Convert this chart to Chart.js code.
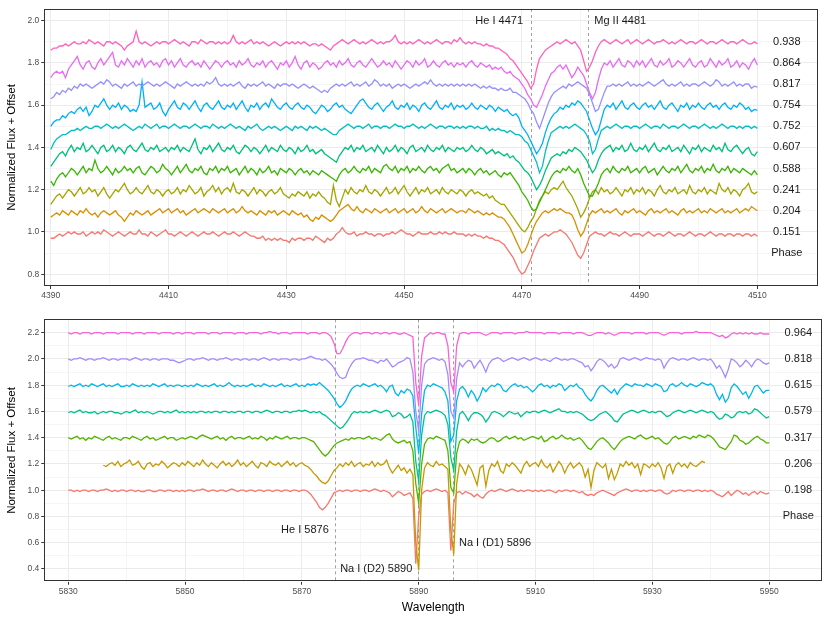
<!DOCTYPE html>
<html>
<head>
<meta charset="utf-8">
<title>Spectra by phase</title>
<script src="https://cdn.jsdelivr.net/npm/chart.js@4.4.1/dist/chart.umd.min.js"></script>
<style>
  body { margin: 0; background: #fff; }
  canvas { position: absolute; left: 0; }
  #top { top: 0; }
  #bottom { top: 311px; }
</style>
</head>
<body>
<canvas id="top" width="830" height="311"></canvas>
<canvas id="bottom" width="830" height="312"></canvas>
<script>
const FONT = '"Liberation Sans", Arial, Helvetica, sans-serif';

// ---- top panel: He I 4471 / Mg II 4481, normalized flux sampled every 0.5 A from 4390 to 4510
const topPhases = ['0.151', '0.204', '0.241', '0.588', '0.607', '0.752', '0.754', '0.817', '0.864', '0.938'];
const topOffsets = [0, 0.1, 0.2, 0.3, 0.4, 0.5, 0.6, 0.7, 0.8, 0.9];
const topColors = ['#F8766D', '#D89000', '#A3A500', '#39B600', '#00BF7D', '#00BFC4', '#00B0F6', '#9590FF', '#E76BF3', '#FF62BC'];
const topXTicks = [4390, 4400, 4410, 4420, 4430, 4440, 4450, 4460, 4470, 4480, 4490, 4500, 4510];
const topYTicks = [0.8, 0.9, 1.0, 1.1, 1.2, 1.3, 1.4, 1.5, 1.6, 1.7, 1.8, 1.9, 2.0];

const t151 = [
  0.97, 0.97, 0.98, 0.99, 0.98, 0.99, 1.00, 0.99, 1.00, 0.99, 0.99, 1.00, 0.98, 0.99, 1.00, 0.99, 1.00, 0.99, 1.01, 1.00,
  0.99, 0.98, 0.99, 1.00, 0.99, 0.98, 0.99, 1.00, 0.99, 0.99, 1.01, 0.99, 0.99, 0.98, 1.00, 0.99, 0.98, 0.99, 1.00, 1.01,
  0.99, 0.99, 0.98, 0.99, 1.00, 0.99, 0.98, 0.99, 1.00, 0.99, 0.98, 0.99, 1.00, 0.99, 0.99, 1.00, 0.99, 0.98, 0.99, 1.00,
  0.99, 0.99, 1.00, 0.99, 0.98, 0.99, 1.00, 0.99, 0.98, 0.98, 0.97, 0.97, 0.98, 0.96, 0.97, 0.96, 0.97, 0.96, 0.97, 0.96,
  0.96, 0.95, 0.97, 0.96, 0.97, 0.97, 0.96, 0.97, 0.97, 0.96, 0.98, 0.97, 0.96, 0.95, 0.97, 0.96, 0.97, 0.99, 1.00, 1.02,
  1.00, 0.99, 0.99, 1.00, 0.98, 0.99, 0.99, 1.00, 0.99, 0.99, 0.98, 0.99, 0.99, 0.98, 0.99, 0.99, 1.00, 0.99, 1.00, 1.01,
  1.00, 0.99, 0.99, 0.98, 0.99, 1.00, 0.99, 0.99, 0.99, 1.00, 0.99, 0.99, 1.00, 0.99, 1.00, 0.99, 0.99, 1.00, 0.99, 0.99,
  0.99, 0.98, 0.99, 0.98, 0.99, 0.98, 0.98, 0.97, 0.98, 0.97, 0.97, 0.96, 0.96, 0.95, 0.94, 0.92, 0.90, 0.88, 0.85, 0.82,
  0.80, 0.81, 0.84, 0.87, 0.91, 0.94, 0.97, 0.98, 0.99, 0.98, 0.99, 1.00, 1.00, 1.01, 1.00, 0.99, 0.97, 0.95, 0.92, 0.89,
  0.875, 0.90, 0.94, 0.98, 0.99, 1.00, 0.99, 0.99, 0.98, 0.99, 1.00, 0.99, 0.99, 0.98, 0.99, 1.00, 0.99, 0.98, 0.99, 0.99,
  0.99, 0.98, 0.99, 1.00, 0.99, 0.98, 0.99, 0.99, 0.98, 0.99, 1.00, 0.99, 0.98, 0.99, 0.99, 0.98, 0.99, 1.00, 0.99, 0.98,
  0.99, 0.99, 0.98, 0.99, 1.00, 0.99, 0.98, 0.99, 0.99, 0.98, 0.99, 0.99, 0.98, 0.99, 0.99, 0.98, 0.99, 0.99, 0.98, 0.99,
  0.98
];
const t204 = [
  0.97, 0.98, 0.99, 0.98, 1.00, 0.99, 0.98, 1.00, 0.99, 0.98, 1.00, 0.99, 1.01, 0.99, 0.98, 0.99, 0.97, 0.99, 1.00, 0.99,
  0.98, 0.99, 1.00, 0.98, 0.97, 0.95, 0.97, 0.99, 0.98, 1.00, 0.99, 0.98, 0.99, 1.00, 0.98, 0.99, 1.00, 1.01, 0.99, 1.00,
  1.01, 0.99, 1.00, 1.01, 0.99, 1.00, 0.98, 0.99, 1.00, 1.01, 0.99, 1.00, 1.01, 1.00, 0.99, 1.01, 1.00, 0.99, 1.00, 1.01,
  0.99, 1.00, 1.01, 0.99, 1.00, 1.02, 1.00, 0.99, 1.00, 0.99, 0.98, 1.00, 0.99, 0.98, 1.00, 0.99, 1.00, 0.98, 0.99, 1.00,
  0.99, 0.98, 1.00, 0.99, 0.98, 0.99, 0.97, 0.98, 0.96, 0.95, 0.97, 0.96, 0.98, 0.97, 0.96, 0.95, 0.96, 0.98, 1.00, 1.01,
  1.02, 1.03, 1.01, 1.00, 1.02, 1.00, 0.99, 1.01, 1.00, 0.99, 1.01, 1.00, 0.99, 1.00, 1.01, 0.99, 1.00, 1.01, 0.99, 1.00,
  1.01, 0.99, 1.00, 1.01, 0.99, 1.00, 1.02, 1.00, 0.99, 1.01, 1.00, 0.99, 1.00, 1.01, 0.99, 1.00, 1.01, 1.00, 0.99, 1.00,
  1.00, 0.99, 1.01, 1.00, 0.99, 1.00, 0.99, 0.98, 0.99, 0.98, 0.99, 0.98, 0.97, 0.97, 0.96, 0.94, 0.92, 0.89, 0.86, 0.83,
  0.80, 0.81, 0.84, 0.88, 0.92, 0.95, 0.97, 0.99, 1.00, 0.99, 1.00, 1.01, 1.00, 1.01, 1.00, 0.99, 0.99, 0.98, 0.95, 0.91,
  0.88, 0.90, 0.94, 0.98, 1.00, 0.99, 1.00, 1.01, 0.99, 1.00, 0.99, 1.00, 1.01, 0.99, 0.98, 1.00, 0.99, 1.00, 1.01, 0.99,
  1.00, 0.99, 0.98, 1.00, 1.01, 0.99, 1.00, 0.99, 1.00, 1.01, 0.99, 1.00, 0.99, 0.98, 1.00, 1.01, 0.99, 1.00, 0.99, 1.00,
  1.01, 0.99, 1.00, 0.99, 1.01, 1.00, 0.99, 1.00, 1.01, 0.99, 1.00, 0.99, 1.00, 1.01, 0.99, 1.00, 1.01, 1.00, 1.02, 1.01,
  1.00
];
const t241 = [
  0.93, 0.95, 0.97, 0.98, 0.96, 0.98, 1.00, 0.99, 0.97, 0.99, 1.01, 0.98, 0.99, 1.01, 0.99, 1.00, 0.97, 0.99, 1.01, 0.98,
  0.96, 0.98, 1.00, 0.99, 1.01, 1.03, 1.00, 0.98, 0.99, 1.01, 0.99, 0.98, 1.00, 1.02, 0.99, 0.98, 1.00, 0.99, 0.97, 0.99,
  1.00, 0.98, 0.99, 1.01, 0.98, 1.00, 0.99, 1.02, 1.00, 0.98, 0.99, 1.01, 0.97, 0.99, 1.00, 1.02, 0.99, 1.01, 0.98, 1.00,
  1.01, 0.99, 1.03, 0.99, 0.98, 1.00, 0.99, 0.97, 0.99, 1.01, 0.98, 1.00, 0.99, 0.97, 0.99, 1.00, 0.98, 0.99, 1.01, 0.98,
  0.97, 0.96, 0.98, 0.97, 0.99, 0.98, 0.97, 0.99, 0.96, 0.98, 0.97, 0.99, 0.97, 0.96, 0.94, 0.93, 1.02, 0.95, 0.92, 0.96,
  1.00, 0.98, 1.01, 0.99, 0.98, 1.00, 0.99, 1.02, 0.99, 0.98, 1.00, 0.99, 0.97, 0.99, 1.01, 0.98, 0.99, 1.01, 0.98, 1.00,
  1.02, 0.99, 0.97, 0.99, 1.01, 0.98, 1.00, 0.99, 1.01, 0.98, 0.99, 1.00, 0.98, 1.01, 0.99, 0.98, 1.00, 0.99, 0.98, 1.00,
  0.99, 0.97, 0.99, 1.00, 0.98, 0.99, 0.98, 0.97, 0.98, 0.96, 0.97, 0.95, 0.94, 0.93, 0.93, 0.91, 0.89, 0.87, 0.85, 0.83,
  0.81, 0.80, 0.82, 0.85, 0.87, 0.91, 0.95, 0.97, 0.99, 0.98, 1.00, 1.01, 1.00, 1.02, 1.04, 1.01, 0.99, 0.97, 0.94, 0.91,
  0.87, 0.89, 0.92, 0.96, 0.99, 1.00, 0.98, 1.01, 0.99, 1.00, 0.98, 0.99, 1.01, 0.99, 0.97, 1.00, 0.99, 1.01, 0.98, 1.00,
  0.99, 1.01, 0.98, 1.00, 0.99, 0.97, 1.00, 1.02, 0.99, 0.98, 1.00, 0.99, 1.01, 0.98, 0.99, 1.00, 0.98, 1.02, 0.99, 0.98,
  1.00, 0.99, 1.01, 0.98, 1.00, 0.99, 0.98, 1.03, 1.00, 0.99, 1.01, 0.98, 1.00, 0.99, 0.97, 1.00, 1.01, 1.03, 0.99, 0.98,
  0.99
];
const t588 = [
  0.94, 0.92, 0.95, 0.97, 0.98, 0.96, 0.98, 1.00, 0.99, 0.97, 0.99, 1.01, 0.98, 1.00, 0.99, 1.04, 1.00, 0.98, 0.99, 1.01,
  0.99, 0.97, 1.00, 0.98, 0.99, 1.01, 0.99, 1.00, 0.98, 1.00, 1.01, 0.98, 0.97, 0.99, 1.01, 1.00, 0.98, 0.99, 1.02, 1.00,
  0.99, 0.97, 0.99, 1.01, 0.98, 1.00, 1.02, 0.99, 0.98, 1.00, 0.99, 1.01, 0.98, 0.97, 1.00, 0.99, 1.01, 0.98, 1.00, 0.99,
  1.01, 0.98, 0.99, 1.00, 0.97, 0.99, 1.01, 0.98, 1.00, 0.99, 0.97, 1.00, 0.98, 0.99, 1.01, 0.98, 0.99, 0.97, 1.00, 0.99,
  0.98, 1.00, 0.99, 0.97, 0.99, 1.00, 0.98, 0.99, 0.97, 0.99, 0.98, 0.97, 0.99, 0.98, 0.97, 0.96, 0.95, 0.94, 0.97, 0.99,
  1.00, 0.98, 0.99, 1.01, 0.99, 0.98, 1.00, 0.99, 1.01, 0.98, 1.00, 0.99, 0.98, 1.01, 1.02, 1.00, 0.99, 1.01, 0.98, 1.00,
  0.99, 1.01, 0.98, 1.00, 0.99, 1.01, 0.99, 0.98, 1.00, 1.01, 0.99, 1.00, 0.98, 1.00, 1.01, 1.02, 0.99, 1.00, 0.98, 0.99,
  1.00, 0.98, 1.00, 0.99, 0.97, 0.99, 1.00, 0.98, 0.99, 0.97, 0.98, 0.99, 0.97, 0.96, 0.98, 0.97, 0.98, 0.96, 0.94, 0.92,
  0.89, 0.87, 0.85, 0.82, 0.80, 0.81, 0.84, 0.87, 0.90, 0.93, 0.96, 0.98, 0.99, 0.98, 1.00, 0.99, 1.01, 0.99, 0.98, 1.00,
  0.97, 0.93, 0.90, 0.87, 0.87, 0.90, 0.93, 0.97, 0.99, 1.00, 0.98, 1.01, 0.99, 0.98, 1.00, 0.99, 1.01, 0.98, 0.99, 1.00,
  0.98, 1.00, 1.01, 0.98, 0.99, 1.00, 0.97, 0.99, 1.01, 0.99, 0.98, 1.00, 0.99, 1.01, 0.98, 1.00, 1.02, 0.99, 0.98, 1.00,
  0.99, 1.01, 0.98, 1.00, 0.99, 1.02, 0.99, 0.98, 1.00, 0.99, 1.01, 0.98, 1.00, 0.99, 0.98, 1.00, 0.99, 0.98, 0.97, 0.99,
  0.97
];
const t607 = [
  0.91, 0.93, 0.95, 0.97, 0.98, 0.96, 0.99, 1.01, 0.98, 1.00, 0.99, 1.02, 0.98, 0.99, 1.01, 0.99, 0.97, 1.00, 1.01, 0.98,
  0.99, 1.01, 0.98, 1.00, 0.99, 0.97, 1.00, 1.01, 0.99, 0.98, 1.00, 1.02, 0.99, 0.98, 1.00, 0.99, 1.01, 0.98, 0.99, 1.00,
  0.98, 1.00, 0.99, 1.01, 0.98, 1.00, 0.99, 0.98, 1.01, 1.04, 0.99, 0.97, 1.00, 0.99, 1.01, 0.98, 1.00, 1.02, 0.99, 0.98,
  1.00, 0.99, 1.01, 0.98, 0.97, 0.99, 1.01, 1.00, 0.98, 1.00, 0.99, 0.97, 0.99, 1.01, 0.98, 1.00, 0.99, 0.98, 1.01, 0.99,
  0.98, 1.00, 0.99, 0.97, 1.00, 0.98, 0.99, 1.01, 0.98, 0.99, 0.97, 0.98, 0.99, 0.97, 0.96, 0.95, 0.94, 0.93, 0.96, 0.98,
  1.00, 0.99, 1.01, 0.98, 1.00, 0.99, 1.01, 0.98, 0.99, 1.00, 0.98, 1.01, 0.99, 0.97, 1.00, 0.98, 0.99, 1.01, 0.98, 1.00,
  0.99, 0.97, 1.00, 1.01, 0.98, 0.99, 1.00, 0.98, 1.01, 0.99, 0.98, 1.00, 0.99, 1.01, 0.98, 1.00, 0.99, 0.98, 1.00, 0.99,
  1.00, 0.98, 0.99, 1.01, 0.99, 0.98, 1.00, 0.99, 0.97, 0.98, 0.99, 0.97, 0.98, 0.97, 0.96, 0.97, 0.95, 0.96, 0.94, 0.93,
  0.91, 0.89, 0.88, 0.86, 0.83, 0.80, 0.82, 0.85, 0.89, 0.92, 0.95, 0.96, 0.97, 0.96, 0.98, 0.97, 0.99, 0.98, 1.00, 0.99,
  0.98, 0.96, 0.94, 0.91, 0.88, 0.90, 0.94, 0.97, 0.99, 1.00, 1.01, 0.98, 1.00, 0.99, 1.01, 0.98, 0.99, 1.02, 0.99, 0.98,
  1.00, 0.99, 1.01, 0.98, 1.00, 1.02, 0.99, 0.98, 1.00, 0.99, 1.01, 0.98, 0.99, 1.00, 0.98, 1.01, 0.99, 0.97, 1.00, 0.99,
  1.01, 0.98, 1.00, 0.99, 0.98, 1.01, 0.99, 1.00, 0.98, 1.02, 0.99, 0.98, 1.00, 1.01, 0.99, 0.97, 0.99, 1.00, 0.97, 0.96,
  0.98
];
const t752 = [
  0.89, 0.92, 0.94, 0.95, 0.96, 0.96, 0.97, 0.98, 0.98, 0.99, 0.98, 0.99, 1.00, 0.99, 0.99, 1.00, 1.00, 0.99, 1.00, 1.01,
  1.00, 0.99, 1.00, 0.99, 1.00, 1.01, 1.00, 0.99, 0.98, 0.99, 1.00, 0.99, 1.01, 1.00, 0.99, 1.00, 1.01, 0.99, 1.00, 1.00,
  0.99, 1.00, 1.01, 1.00, 0.99, 1.00, 1.00, 0.99, 1.00, 1.01, 1.00, 0.99, 1.00, 1.00, 0.99, 1.01, 1.00, 0.99, 1.00, 0.99,
  1.00, 1.01, 1.00, 0.99, 1.00, 0.99, 0.98, 1.00, 0.99, 1.00, 1.01, 0.99, 0.98, 0.99, 1.00, 0.99, 1.00, 0.99, 0.98, 0.99,
  1.00, 0.99, 0.98, 1.00, 0.99, 1.00, 0.99, 0.98, 1.00, 0.99, 1.00, 0.99, 0.98, 0.99, 0.98, 0.97, 0.96, 0.96, 0.98, 0.99,
  1.00, 1.01, 1.00, 0.99, 1.00, 1.00, 0.99, 1.00, 1.01, 0.99, 1.00, 1.00, 0.99, 1.00, 1.00, 0.99, 1.00, 1.01, 1.00, 1.00,
  0.99, 1.00, 1.00, 1.01, 1.00, 0.99, 1.00, 0.99, 1.00, 1.01, 1.00, 0.99, 1.00, 1.00, 0.99, 1.00, 1.00, 0.99, 1.00, 0.99,
  1.00, 0.99, 1.00, 1.00, 0.99, 1.00, 0.99, 0.99, 1.00, 0.98, 0.99, 0.98, 0.99, 0.98, 0.98, 0.97, 0.98, 0.97, 0.96, 0.96,
  0.95, 0.93, 0.92, 0.89, 0.86, 0.83, 0.78, 0.81, 0.88, 0.93, 0.97, 0.98, 0.99, 1.00, 0.99, 1.00, 0.99, 1.00, 1.01, 1.00,
  0.99, 0.98, 0.96, 0.93, 0.87, 0.89, 0.94, 0.98, 0.99, 1.00, 0.99, 1.00, 1.01, 1.00, 0.99, 1.00, 1.00, 0.99, 1.00, 1.00,
  0.99, 1.00, 1.01, 1.00, 0.99, 1.00, 1.00, 0.99, 1.01, 1.00, 0.99, 1.00, 1.00, 0.99, 1.00, 1.01, 1.00, 0.99, 1.00, 1.00,
  0.99, 1.00, 1.01, 1.00, 0.99, 1.00, 0.99, 1.00, 1.01, 1.00, 0.99, 1.00, 1.00, 0.99, 1.00, 0.99, 1.00, 1.00, 0.99, 1.00,
  0.99
];
const t754 = [
  0.90, 0.92, 0.93, 0.93, 0.95, 0.94, 0.96, 0.97, 0.96, 0.98, 0.99, 0.97, 0.99, 0.95, 0.97, 1.00, 0.99, 1.01, 1.03, 1.00,
  0.98, 1.00, 0.99, 1.01, 0.98, 1.00, 0.99, 0.97, 0.98, 0.97, 1.00, 1.11, 0.99, 1.00, 1.01, 0.98, 0.99, 1.01, 0.97, 0.95,
  0.98, 1.00, 1.02, 0.99, 0.98, 1.01, 1.00, 0.98, 1.00, 1.02, 0.99, 0.97, 1.00, 1.01, 0.99, 0.98, 1.00, 1.02, 0.99, 0.98,
  1.00, 0.99, 1.01, 0.98, 1.00, 1.02, 0.99, 0.97, 1.00, 0.99, 1.01, 0.98, 1.00, 1.01, 0.99, 1.03, 1.01, 0.99, 0.98, 1.00,
  1.01, 0.99, 0.98, 1.00, 1.01, 0.99, 0.98, 1.00, 0.99, 0.97, 0.96, 0.98, 1.00, 0.99, 0.97, 0.98, 1.00, 1.01, 0.99, 1.00,
  0.98, 0.97, 0.96, 0.98, 1.00, 1.02, 1.03, 1.01, 0.99, 0.98, 1.00, 1.01, 0.99, 0.97, 0.99, 1.00, 1.02, 0.99, 0.98, 1.00,
  0.99, 1.01, 0.98, 1.00, 0.99, 0.97, 1.00, 1.01, 0.99, 0.98, 1.00, 1.02, 0.99, 0.98, 1.00, 0.99, 1.01, 0.98, 1.00, 0.99,
  1.00, 0.98, 0.99, 1.01, 0.99, 0.98, 1.00, 0.99, 0.98, 1.00, 0.99, 0.97, 0.99, 0.98, 0.97, 0.98, 0.96, 0.95, 0.96, 0.94,
  0.90, 0.88, 0.86, 0.83, 0.80, 0.77, 0.79, 0.82, 0.87, 0.91, 0.94, 0.96, 0.97, 0.99, 0.98, 1.00, 0.99, 1.01, 1.00, 1.02,
  1.01, 0.99, 0.97, 0.93, 0.89, 0.86, 0.88, 0.93, 0.98, 1.00, 0.99, 1.01, 0.98, 1.00, 1.02, 0.99, 0.98, 1.00, 1.01, 0.99,
  0.98, 1.00, 1.01, 0.99, 1.00, 0.98, 1.00, 1.02, 0.99, 0.98, 1.00, 1.01, 0.99, 0.97, 1.00, 0.99, 1.01, 0.98, 1.00, 0.99,
  1.01, 0.99, 0.98, 1.00, 1.01, 0.99, 1.00, 0.98, 1.00, 1.01, 0.99, 0.98, 1.00, 0.99, 1.01, 1.00, 0.98, 0.99, 0.97, 0.98,
  0.975
];
const t817 = [
  0.93, 0.94, 0.96, 0.95, 0.97, 0.96, 0.98, 0.97, 0.99, 0.98, 1.00, 0.99, 1.00, 0.99, 0.98, 0.99, 1.00, 1.01, 1.00, 1.02,
  1.01, 0.99, 1.00, 0.99, 0.98, 1.00, 0.99, 1.00, 1.01, 0.99, 1.00, 0.99, 1.00, 1.01, 1.00, 0.99, 1.00, 0.99, 1.00, 1.01,
  1.00, 0.99, 0.98, 1.00, 0.99, 1.00, 1.01, 1.00, 0.99, 1.00, 0.99, 1.00, 0.99, 1.01, 1.00, 1.01, 1.03, 1.00, 0.99, 1.00,
  0.99, 1.00, 0.99, 1.00, 1.01, 0.99, 0.98, 1.00, 0.99, 1.00, 0.99, 1.00, 1.01, 0.99, 1.00, 0.99, 0.98, 1.00, 0.99, 1.00,
  1.00, 0.99, 1.00, 0.99, 0.98, 0.99, 1.00, 0.99, 0.98, 0.99, 0.98, 0.97, 0.96, 0.97, 0.96, 0.98, 0.99, 1.00, 0.99, 1.00,
  0.99, 1.00, 1.01, 0.99, 1.00, 0.99, 1.00, 1.01, 0.99, 1.00, 1.02, 1.01, 0.99, 1.00, 0.99, 1.00, 0.98, 0.99, 1.00, 0.99,
  1.00, 0.99, 0.98, 0.99, 1.00, 0.99, 1.00, 1.01, 1.00, 1.02, 1.00, 0.99, 1.00, 0.99, 1.00, 0.99, 1.00, 0.99, 1.00, 0.99,
  1.00, 0.99, 1.00, 0.99, 1.00, 0.99, 0.98, 0.99, 0.98, 0.99, 0.98, 0.98, 0.97, 0.98, 0.97, 0.97, 0.98, 0.96, 0.96, 0.95,
  0.94, 0.93, 0.91, 0.88, 0.86, 0.82, 0.79, 0.83, 0.87, 0.91, 0.94, 0.96, 0.97, 0.98, 0.99, 0.98, 1.00, 0.99, 1.00, 1.01,
  1.00, 0.99, 0.98, 0.95, 0.91, 0.87, 0.88, 0.92, 0.96, 0.99, 0.99, 1.00, 0.99, 1.00, 0.99, 1.00, 1.01, 0.99, 1.00, 0.99,
  1.00, 0.99, 1.00, 1.01, 1.00, 0.99, 1.00, 1.01, 1.02, 1.00, 0.99, 1.00, 0.99, 1.00, 1.01, 0.99, 1.00, 0.99, 1.00, 1.00,
  0.99, 1.00, 1.01, 1.00, 0.99, 1.00, 1.02, 1.01, 0.99, 1.00, 0.99, 1.00, 1.01, 0.99, 1.00, 0.99, 1.00, 1.00, 0.98, 0.99,
  0.985
];
const t864 = [
  0.93, 0.95, 0.96, 0.95, 0.96, 0.93, 0.97, 0.99, 1.01, 1.03, 0.99, 0.97, 1.00, 1.01, 0.98, 0.97, 1.00, 1.02, 0.99, 1.01,
  1.03, 1.05, 0.99, 0.98, 1.01, 0.99, 1.02, 1.00, 0.98, 1.01, 0.99, 1.02, 0.98, 1.00, 1.01, 0.99, 1.00, 0.98, 1.01, 1.02,
  0.99, 1.01, 0.98, 1.00, 1.02, 0.99, 0.98, 1.00, 1.01, 0.99, 1.00, 0.98, 1.01, 0.99, 0.97, 0.99, 1.01, 1.00, 0.98, 1.00,
  1.01, 0.99, 1.00, 0.98, 1.01, 0.99, 1.00, 1.02, 0.99, 0.98, 1.00, 0.99, 1.01, 0.98, 1.00, 1.01, 0.99, 0.97, 1.00, 0.99,
  1.01, 0.98, 1.00, 1.03, 0.99, 0.97, 1.00, 1.01, 0.98, 1.00, 0.99, 0.97, 0.98, 1.00, 1.01, 0.99, 1.00, 0.98, 1.01, 0.99,
  1.00, 1.02, 0.99, 0.98, 1.00, 1.01, 0.99, 0.98, 1.00, 1.02, 1.00, 0.98, 0.99, 1.01, 0.99, 1.00, 0.98, 1.01, 0.99, 0.97,
  0.99, 1.01, 1.00, 0.98, 1.01, 0.99, 1.00, 1.02, 0.98, 0.99, 1.01, 0.99, 0.98, 1.00, 1.01, 0.99, 1.00, 0.98, 1.00, 0.99,
  1.00, 0.98, 1.00, 1.01, 0.99, 0.98, 1.00, 0.99, 0.98, 0.99, 0.97, 0.98, 0.97, 0.98, 0.96, 0.95, 0.96, 0.94, 0.93, 0.92,
  0.90, 0.88, 0.85, 0.83, 0.80, 0.79, 0.82, 0.85, 0.89, 0.92, 0.95, 0.96, 0.98, 0.99, 0.97, 0.99, 0.96, 0.93, 0.95, 0.98,
  0.96, 0.94, 0.90, 0.86, 0.83, 0.86, 0.92, 0.97, 1.00, 0.99, 1.01, 0.98, 1.00, 1.02, 0.99, 0.98, 1.01, 1.00, 0.98, 1.01,
  0.99, 1.01, 0.98, 1.00, 1.02, 0.99, 0.98, 1.01, 0.99, 1.00, 1.02, 0.98, 0.99, 1.01, 1.00, 0.98, 1.00, 1.02, 0.99, 0.98,
  1.00, 1.01, 0.98, 0.99, 1.02, 1.00, 0.98, 1.01, 0.99, 1.00, 1.02, 0.98, 0.99, 1.01, 0.98, 1.00, 0.99, 0.97, 1.00, 1.02,
  0.99
];
const t938 = [
  0.96, 0.97, 0.97, 0.98, 0.98, 0.99, 0.98, 0.99, 1.00, 0.99, 0.99, 1.00, 0.99, 1.01, 1.00, 0.99, 1.00, 0.99, 0.98, 1.00,
  1.00, 0.99, 1.00, 0.99, 0.98, 0.96, 0.98, 0.99, 1.00, 1.05, 1.00, 0.99, 1.00, 0.99, 0.98, 0.99, 1.00, 0.99, 1.00, 1.00,
  0.99, 1.00, 1.01, 1.00, 0.99, 1.00, 0.99, 0.98, 1.00, 1.00, 0.99, 1.01, 1.00, 0.99, 1.00, 1.00, 0.99, 1.00, 0.99, 1.00,
  0.99, 1.00, 1.03, 1.00, 0.99, 1.00, 0.99, 1.00, 1.01, 0.99, 1.00, 0.99, 1.00, 0.99, 0.98, 0.99, 1.00, 0.99, 0.98, 0.99,
  1.00, 0.99, 1.00, 0.99, 1.00, 0.99, 1.00, 0.99, 0.98, 0.99, 0.99, 0.98, 0.99, 0.98, 0.97, 0.96, 0.98, 0.99, 1.00, 1.01,
  1.00, 0.99, 1.00, 1.01, 1.00, 0.99, 1.00, 0.99, 1.00, 1.01, 1.00, 0.99, 1.00, 0.99, 1.00, 1.00, 1.01, 1.03, 1.00, 0.99,
  1.00, 0.99, 1.00, 0.99, 1.00, 1.01, 1.00, 0.99, 1.00, 0.99, 1.00, 1.01, 1.00, 0.99, 1.00, 1.00, 0.99, 1.01, 1.00, 1.02,
  1.00, 0.99, 1.00, 0.99, 1.00, 0.99, 0.99, 0.98, 0.99, 0.98, 0.98, 0.97, 0.97, 0.96, 0.95, 0.94, 0.92, 0.91, 0.89, 0.87,
  0.85, 0.83, 0.81, 0.78, 0.80, 0.87, 0.92, 0.94, 0.96, 0.97, 0.98, 0.99, 1.00, 0.99, 1.00, 1.01, 1.00, 0.99, 1.00, 0.98,
  0.96, 0.91, 0.86, 0.88, 0.91, 0.95, 0.98, 1.00, 1.01, 1.00, 0.99, 1.00, 1.01, 1.00, 0.99, 1.00, 1.01, 0.99, 1.00, 1.01,
  1.00, 0.99, 1.00, 1.01, 1.00, 0.99, 1.00, 1.00, 1.01, 1.00, 0.99, 1.00, 0.99, 1.00, 1.01, 1.00, 0.99, 1.00, 1.00, 0.99,
  1.00, 1.01, 1.00, 0.99, 1.00, 1.00, 0.99, 1.00, 1.01, 1.00, 0.99, 1.00, 1.00, 0.99, 1.00, 1.01, 1.00, 0.99, 0.99, 1.00,
  0.99
];

// ---- bottom panel: He I 5876 / Na I D, normalized flux sampled every 0.5 A from 5830 to 5950
const botPhases = ['0.198', '0.206', '0.317', '0.579', '0.615', '0.818', '0.964'];
const botOffsets = [0, 0.2, 0.4, 0.6, 0.8, 1.0, 1.2];
const botColors = ['#F8766D', '#C49A00', '#53B400', '#00C094', '#00B6EB', '#A58AFF', '#FB61D7'];
const botStarts = [5830, 5836, 5830, 5830, 5830, 5830, 5830];
const botXTicks = [5830, 5840, 5850, 5860, 5870, 5880, 5890, 5900, 5910, 5920, 5930, 5940, 5950];
const botYTicks = [0.4, 0.5, 0.6, 0.7, 0.8, 0.9, 1.0, 1.1, 1.2, 1.3, 1.4, 1.5, 1.6, 1.7, 1.8, 1.9, 2.0, 2.1, 2.2];

const b198 = [
  1.00, 1.00, 0.99, 1.00, 0.99, 1.00, 1.00, 0.99, 1.00, 1.00, 0.99, 1.00, 1.00, 1.01, 1.00, 0.99, 1.00, 0.99, 1.00, 1.00,
  0.99, 1.00, 1.00, 0.99, 1.00, 0.99, 0.99, 1.00, 1.00, 0.99, 0.99, 1.00, 1.00, 0.99, 1.00, 1.00, 0.99, 1.00, 0.99, 1.00,
  0.99, 1.00, 1.00, 0.99, 1.00, 1.00, 1.01, 1.00, 0.99, 1.00, 1.00, 0.99, 1.00, 1.00, 0.99, 1.00, 1.01, 1.00, 0.99, 1.00,
  1.00, 0.99, 1.00, 1.00, 0.99, 1.00, 1.00, 0.99, 1.00, 1.00, 0.99, 1.00, 1.00, 0.99, 1.00, 1.00, 0.99, 1.00, 1.00, 0.99,
  1.00, 1.00, 0.99, 0.97, 0.94, 0.91, 0.87, 0.85, 0.87, 0.90, 0.94, 0.98, 0.99, 1.00, 0.99, 1.00, 1.00, 0.99, 1.00, 1.00,
  0.99, 1.00, 1.00, 0.99, 1.00, 1.01, 1.00, 0.99, 1.00, 0.99, 0.98, 0.95, 0.97, 0.99, 0.98, 0.96, 0.97, 0.98, 0.94, 0.44,
  0.80, 0.97, 0.99, 1.00, 0.99, 1.00, 1.01, 1.00, 0.99, 1.00, 0.98, 0.54, 0.90, 0.98, 0.99, 0.97, 0.99, 0.98, 0.97, 0.95,
  0.97, 0.95, 0.94, 0.97, 0.99, 1.00, 0.99, 1.00, 1.01, 1.00, 0.99, 1.00, 1.01, 1.00, 0.99, 1.00, 0.99, 1.00, 1.00, 0.99,
  1.00, 0.99, 1.00, 0.99, 1.00, 1.00, 0.99, 0.98, 1.00, 0.99, 1.00, 1.00, 0.99, 1.00, 0.99, 0.98, 0.99, 0.97, 0.96, 0.97,
  0.96, 0.98, 0.99, 1.00, 0.99, 0.98, 0.97, 0.96, 0.98, 0.99, 1.00, 1.01, 1.00, 0.99, 1.00, 1.00, 0.99, 1.00, 0.99, 1.00,
  1.00, 0.99, 1.00, 1.00, 0.98, 0.97, 0.98, 1.00, 0.99, 1.00, 1.00, 0.99, 1.00, 1.00, 0.99, 1.00, 1.00, 0.99, 1.00, 0.99,
  1.00, 0.99, 0.97, 0.96, 0.95, 0.97, 0.99, 0.96, 0.98, 1.00, 0.99, 0.97, 0.98, 0.96, 0.98, 0.99, 0.97, 0.99, 0.98, 0.97,
  0.98
];
// 0.206 only covers 5836 - 5939
const b206 = [
  0.99, 0.98, 1.00, 1.01, 0.99, 1.02, 0.98, 1.00,
  1.01, 1.03, 0.99, 1.00, 1.02, 0.98, 0.96, 1.00, 1.01, 0.98, 1.00, 0.99, 1.02, 1.00, 0.97, 0.99, 1.01, 1.00, 0.98, 1.01,
  0.99, 1.02, 1.00, 0.98, 1.01, 0.99, 1.03, 1.00, 0.98, 1.01, 0.99, 0.97, 1.00, 1.02, 0.99, 1.01, 0.98, 1.00, 1.03, 0.99,
  1.01, 0.98, 1.00, 1.02, 0.99, 0.97, 1.01, 1.00, 0.98, 1.02, 1.00, 0.99, 1.01, 0.98, 1.00, 1.02, 0.99, 1.01, 0.98, 1.00,
  1.01, 0.99, 0.98, 0.96, 0.93, 0.91, 0.88, 0.86, 0.85, 0.87, 0.91, 0.95, 0.97, 1.00, 0.98, 1.01, 0.99, 1.02, 0.98, 1.00,
  1.01, 0.98, 1.00, 0.99, 1.02, 0.98, 1.01, 0.99, 1.00, 1.03, 0.97, 0.93, 0.96, 0.99, 0.95, 0.97, 0.93, 0.96, 0.92, 0.40,
  0.19, 0.80, 0.97, 1.01, 0.99, 0.98, 1.02, 0.99, 1.00, 0.98, 0.96, 0.50, 0.31, 0.85, 1.00, 0.97, 0.92, 0.99, 0.96, 0.90,
  0.84, 0.97, 0.99, 0.83, 0.95, 1.00, 0.98, 1.02, 0.95, 0.93, 1.00, 0.98, 1.01, 0.99, 0.96, 0.93, 0.99, 1.02, 0.98, 1.00,
  1.01, 0.98, 1.03, 0.99, 0.97, 1.00, 0.94, 0.98, 1.02, 0.99, 0.93, 0.98, 1.01, 0.97, 0.99, 1.01, 0.98, 0.90, 0.96, 0.82,
  0.95, 1.01, 0.99, 0.97, 1.00, 0.89, 0.96, 0.88, 0.93, 1.00, 0.98, 1.02, 0.99, 1.01, 0.97, 1.00, 0.92, 1.00, 0.99, 0.97,
  1.00, 0.98, 1.01, 0.97, 0.89, 0.98, 1.00, 0.93, 0.99, 1.01, 0.98, 1.00, 0.97, 1.01, 0.99, 0.98, 1.00, 1.02, 1.01
];
const b317 = [
  1.00, 0.99, 1.00, 1.01, 0.99, 1.00, 0.98, 1.00, 0.99, 1.01, 1.00, 0.99, 0.98, 1.00, 1.01, 0.99, 1.00, 0.99, 0.98, 1.00,
  1.00, 0.99, 1.01, 1.00, 0.99, 0.98, 1.00, 1.01, 0.99, 1.00, 0.98, 0.99, 1.00, 1.01, 0.99, 1.00, 1.00, 0.98, 0.99, 1.00,
  0.99, 1.00, 1.01, 1.00, 0.99, 1.01, 1.02, 1.01, 1.00, 0.99, 1.00, 1.01, 0.99, 1.00, 0.98, 1.00, 1.01, 0.99, 1.00, 1.00,
  0.99, 1.00, 1.01, 0.99, 1.00, 0.99, 1.01, 1.00, 0.98, 1.00, 0.99, 1.01, 1.00, 0.99, 1.00, 1.01, 0.99, 1.00, 1.00, 0.99,
  1.00, 1.00, 0.99, 0.98, 0.97, 0.94, 0.91, 0.88, 0.86, 0.88, 0.91, 0.94, 0.96, 0.97, 0.98, 0.99, 0.98, 1.00, 0.99, 1.00,
  1.00, 0.99, 1.00, 1.01, 0.99, 1.00, 0.99, 0.98, 1.00, 1.02, 1.03, 0.99, 0.97, 0.96, 0.97, 0.98, 0.96, 0.97, 0.90, 0.65,
  0.50, 0.80, 0.95, 0.99, 1.00, 0.99, 1.01, 1.00, 0.99, 0.98, 0.90, 0.62, 0.58, 0.88, 0.97, 0.99, 0.98, 0.96, 0.99, 0.98,
  0.99, 0.97, 0.96, 0.97, 0.99, 1.00, 0.99, 0.97, 0.98, 1.00, 1.01, 0.99, 1.00, 1.01, 0.99, 1.00, 0.98, 0.99, 1.00, 1.01,
  1.00, 0.99, 1.01, 0.97, 0.98, 1.00, 1.01, 0.99, 1.00, 1.02, 1.00, 0.99, 1.00, 0.98, 0.99, 1.00, 0.98, 0.95, 0.92, 0.91,
  0.94, 0.97, 0.99, 1.00, 0.98, 0.96, 0.93, 0.91, 0.94, 0.97, 0.99, 1.00, 1.01, 1.00, 0.99, 1.01, 1.02, 1.00, 0.99, 1.00,
  1.01, 0.99, 1.00, 0.98, 0.96, 0.95, 0.97, 1.00, 1.01, 0.99, 1.00, 1.01, 1.00, 0.99, 1.01, 1.00, 1.02, 1.01, 1.00, 1.02,
  1.01, 0.99, 0.96, 0.93, 0.92, 0.91, 0.94, 0.97, 1.02, 1.01, 0.98, 0.97, 0.95, 0.96, 0.98, 1.00, 1.01, 0.99, 0.98, 0.96,
  0.96
];
const b579 = [
  0.99, 1.00, 0.99, 1.00, 1.01, 0.99, 1.00, 0.99, 0.99, 1.00, 0.98, 0.99, 1.00, 0.99, 1.00, 1.00, 0.99, 0.99, 0.98, 0.99,
  1.00, 0.99, 1.00, 1.01, 0.99, 1.00, 0.99, 1.00, 0.99, 0.98, 0.99, 1.00, 1.00, 0.99, 1.00, 0.99, 1.00, 1.01, 0.99, 1.00,
  0.99, 1.00, 0.99, 1.00, 0.99, 1.00, 1.00, 0.99, 1.00, 0.99, 1.00, 1.00, 0.99, 1.00, 1.00, 0.99, 1.00, 0.99, 1.00, 1.00,
  0.99, 1.00, 1.00, 0.99, 1.00, 1.00, 0.99, 1.00, 1.01, 1.00, 0.99, 1.00, 1.00, 0.99, 1.00, 1.00, 0.99, 1.00, 1.00, 1.01,
  1.00, 1.01, 1.00, 0.99, 1.00, 0.99, 1.00, 0.98, 0.97, 0.95, 0.93, 0.91, 0.89, 0.87, 0.88, 0.91, 0.94, 0.98, 1.00, 0.99,
  1.00, 0.99, 1.00, 0.99, 1.00, 1.01, 1.00, 0.99, 1.00, 1.01, 1.00, 0.96, 0.97, 0.99, 0.98, 0.95, 0.96, 0.98, 0.92, 0.62,
  0.47, 0.82, 0.97, 1.00, 0.99, 1.00, 1.01, 1.00, 0.99, 0.97, 0.90, 0.65, 0.55, 0.85, 0.98, 1.00, 0.97, 0.93, 0.97, 0.99,
  0.99, 0.98, 0.96, 0.92, 0.95, 0.99, 1.00, 0.99, 0.98, 0.96, 0.98, 1.00, 0.99, 0.98, 0.99, 0.96, 0.98, 1.00, 0.99, 1.00,
  1.00, 0.99, 1.00, 1.01, 1.00, 0.99, 1.00, 1.01, 1.02, 1.00, 1.00, 0.99, 1.00, 0.99, 1.00, 0.99, 0.98, 0.96, 0.94, 0.93,
  0.94, 0.96, 0.98, 0.99, 1.00, 0.98, 0.96, 0.93, 0.92, 0.95, 0.98, 0.99, 1.00, 1.01, 1.00, 0.99, 1.00, 1.01, 1.00, 0.99,
  1.00, 0.99, 1.00, 1.00, 0.98, 0.96, 0.97, 0.99, 1.00, 1.01, 1.00, 0.99, 1.00, 1.01, 1.00, 0.99, 1.00, 1.01, 1.00, 0.99,
  1.00, 0.99, 0.96, 0.94, 0.95, 0.98, 0.97, 0.95, 0.96, 0.99, 1.00, 0.99, 1.00, 0.98, 0.99, 1.02, 1.01, 0.99, 0.97, 0.95,
  0.96
];
const b615 = [
  0.99, 1.00, 0.99, 1.00, 1.01, 0.99, 1.00, 0.99, 1.01, 1.00, 0.99, 1.00, 1.01, 0.99, 1.00, 0.99, 1.00, 1.01, 0.99, 0.99,
  1.00, 0.99, 1.01, 1.00, 0.99, 1.00, 0.99, 1.00, 0.99, 1.01, 1.00, 0.99, 1.00, 1.01, 0.99, 1.00, 0.99, 1.00, 1.00, 0.99,
  1.00, 0.99, 1.00, 0.99, 1.01, 1.00, 0.99, 1.00, 0.99, 1.00, 1.01, 0.99, 1.00, 0.99, 1.00, 1.02, 1.00, 0.99, 1.00, 0.99,
  1.00, 0.99, 1.00, 1.01, 0.99, 1.00, 0.99, 1.01, 1.00, 0.99, 1.00, 0.99, 1.00, 1.01, 0.99, 1.00, 0.99, 1.00, 1.01, 0.99,
  1.00, 0.99, 1.01, 1.00, 1.01, 1.00, 1.02, 1.00, 0.98, 0.96, 0.93, 0.90, 0.86, 0.83, 0.85, 0.88, 0.93, 0.97, 0.99, 1.00,
  0.99, 1.01, 1.00, 0.99, 1.00, 1.01, 0.99, 1.00, 0.98, 0.95, 0.99, 1.00, 0.94, 0.92, 0.96, 0.94, 0.97, 0.96, 0.92, 0.68,
  0.48, 0.78, 0.96, 1.00, 0.99, 1.01, 1.00, 0.99, 0.98, 0.95, 0.88, 0.57, 0.62, 0.88, 0.97, 0.99, 0.96, 0.91, 0.96, 0.93,
  0.88, 0.92, 0.98, 0.95, 0.98, 1.00, 0.99, 1.01, 1.00, 0.96, 0.95, 0.98, 1.00, 1.01, 0.99, 1.00, 0.98, 0.99, 0.97, 0.95,
  0.97, 1.00, 1.01, 0.99, 1.00, 0.98, 1.00, 0.99, 1.01, 1.00, 0.96, 0.98, 1.00, 0.99, 1.01, 0.98, 0.97, 0.93, 0.90, 0.88,
  0.91, 0.96, 0.99, 1.00, 0.98, 0.96, 0.94, 0.97, 0.93, 0.97, 0.99, 1.01, 1.00, 0.99, 1.01, 1.00, 1.00, 0.99, 1.01, 1.00,
  0.99, 1.01, 1.00, 0.99, 0.95, 0.96, 1.00, 1.01, 0.99, 1.00, 1.02, 1.00, 0.99, 1.01, 1.00, 0.99, 1.00, 1.02, 1.01, 1.00,
  1.01, 0.99, 0.93, 0.89, 0.93, 0.87, 0.90, 0.98, 1.01, 0.99, 0.96, 0.93, 0.95, 0.90, 0.94, 0.99, 1.00, 0.97, 0.94, 0.96,
  0.96
];
const b818 = [
  1.00, 0.99, 1.00, 1.00, 1.01, 1.00, 0.99, 1.00, 1.00, 0.99, 1.00, 1.00, 1.01, 1.00, 0.99, 1.00, 1.00, 0.99, 1.00, 1.00,
  1.00, 0.99, 1.00, 1.01, 1.00, 0.99, 1.00, 1.00, 0.99, 1.00, 1.00, 0.99, 1.00, 1.00, 1.00, 0.99, 0.99, 0.98, 0.97, 0.98,
  0.99, 1.00, 1.00, 0.99, 1.00, 1.00, 1.01, 1.00, 0.99, 1.00, 1.00, 0.99, 1.00, 1.00, 1.01, 1.00, 0.99, 1.00, 1.00, 0.99,
  1.00, 1.00, 0.99, 1.00, 1.00, 0.99, 1.00, 1.01, 1.00, 0.99, 1.00, 1.00, 0.99, 1.00, 1.00, 1.00, 0.99, 1.00, 1.00, 0.99,
  1.00, 1.00, 1.01, 1.02, 1.01, 1.00, 1.00, 0.99, 1.00, 0.98, 0.96, 0.93, 0.89, 0.86, 0.85, 0.86, 0.92, 0.96, 0.99, 1.00,
  1.00, 1.01, 1.00, 0.99, 0.99, 0.98, 0.97, 0.99, 0.98, 1.00, 0.97, 0.94, 0.95, 0.97, 0.98, 0.99, 1.01, 1.00, 0.90, 0.60,
  0.45, 0.80, 0.96, 0.99, 1.00, 1.01, 1.00, 0.99, 1.00, 0.98, 0.88, 0.60, 0.55, 0.85, 0.97, 0.94, 0.97, 0.99, 0.98, 0.93,
  0.96, 0.99, 0.95, 0.90, 0.96, 0.99, 1.00, 1.01, 1.00, 0.98, 0.99, 1.00, 1.01, 1.00, 0.99, 1.00, 1.01, 1.00, 0.99, 1.00,
  1.01, 1.00, 0.99, 1.00, 0.99, 0.98, 1.00, 1.01, 1.00, 0.99, 1.00, 0.99, 1.00, 1.00, 0.99, 0.98, 0.97, 0.94, 0.95, 0.91,
  0.94, 0.98, 1.00, 0.99, 0.97, 0.94, 0.96, 0.93, 0.95, 1.00, 1.01, 1.00, 0.99, 1.00, 1.01, 1.00, 0.99, 1.00, 1.01, 1.00,
  1.00, 0.99, 1.00, 0.99, 0.93, 0.97, 1.00, 1.01, 1.00, 0.99, 1.00, 1.00, 0.99, 1.00, 1.01, 1.00, 0.99, 1.00, 1.00, 0.99,
  1.00, 0.97, 0.93, 0.95, 0.91, 0.86, 0.92, 1.00, 0.99, 0.97, 0.94, 0.96, 0.99, 0.97, 0.94, 0.98, 1.00, 0.99, 0.97, 0.96,
  0.97
];
const b964 = [
  1.00, 0.99, 1.00, 1.00, 0.99, 1.00, 1.00, 1.00, 0.99, 1.00, 1.00, 1.00, 0.99, 1.00, 1.00, 1.00, 1.00, 0.99, 1.00, 1.00,
  1.00, 1.00, 0.99, 1.00, 1.00, 1.00, 0.99, 1.00, 1.00, 1.00, 1.00, 0.99, 1.00, 1.00, 1.00, 1.00, 0.99, 1.00, 1.00, 0.99,
  1.00, 1.00, 1.00, 0.99, 1.00, 1.00, 1.00, 1.00, 0.99, 1.00, 1.00, 1.00, 0.99, 1.00, 1.00, 1.00, 1.00, 0.99, 1.00, 1.00,
  1.00, 0.99, 1.00, 1.00, 1.00, 1.00, 0.99, 1.00, 1.00, 1.01, 1.00, 1.00, 0.99, 1.00, 1.00, 1.00, 0.99, 1.00, 1.00, 1.00,
  1.00, 1.00, 0.99, 1.00, 1.00, 1.00, 0.99, 1.00, 1.00, 0.99, 0.97, 0.92, 0.84, 0.84, 0.88, 0.93, 0.97, 0.99, 1.00, 1.00,
  0.99, 1.00, 1.00, 1.00, 0.99, 1.00, 1.00, 0.99, 1.00, 1.00, 0.99, 1.00, 1.00, 0.99, 0.99, 1.00, 0.99, 0.98, 0.97, 0.62,
  0.45, 0.82, 0.96, 0.98, 1.00, 0.99, 1.00, 1.00, 0.99, 0.99, 0.90, 0.62, 0.55, 0.90, 0.99, 1.00, 1.00, 0.99, 1.00, 1.00,
  1.00, 1.00, 0.99, 0.98, 0.99, 1.00, 1.00, 1.00, 0.99, 1.00, 1.00, 1.00, 1.00, 0.99, 1.00, 1.00, 1.00, 1.01, 1.00, 1.00,
  1.00, 1.00, 1.00, 0.99, 1.00, 1.00, 1.00, 1.00, 0.99, 1.00, 1.00, 1.00, 1.00, 0.99, 1.00, 1.00, 1.00, 0.99, 0.98, 0.98,
  0.99, 1.00, 1.00, 1.00, 0.99, 1.00, 0.99, 0.98, 0.99, 1.00, 1.00, 1.00, 1.00, 0.99, 1.00, 1.00, 1.00, 1.00, 0.99, 1.00,
  1.00, 1.00, 1.00, 0.99, 0.98, 0.99, 1.00, 1.00, 1.00, 1.00, 0.99, 1.00, 1.00, 1.00, 1.00, 1.01, 1.00, 1.00, 1.00, 1.00,
  1.00, 0.99, 0.98, 0.97, 0.98, 0.96, 0.97, 0.99, 1.00, 0.99, 1.00, 0.99, 1.00, 0.99, 1.00, 0.99, 0.99, 1.00, 0.99, 0.99,
  0.99
];

const STEP = 0.5;

function spectrum(flux, start, offset) {
  return flux.map((f, i) => ({ x: start + i * STEP, y: +(f + offset).toFixed(3) }));
}

// dashed rest wavelengths, line names, phase labels and the panel frame
const panelDecor = {
  id: 'panelDecor',
  beforeDatasetsDraw(chart, args, opts) {
    const { ctx, chartArea: a, scales: { x } } = chart;
    ctx.save();
    ctx.strokeStyle = '#8a8a8a';
    ctx.lineWidth = 0.8;
    ctx.setLineDash([3, 3]);
    opts.lines.forEach(w => {
      const px = Math.round(x.getPixelForValue(w)) + 0.5;
      ctx.beginPath();
      ctx.moveTo(px, a.top);
      ctx.lineTo(px, a.bottom);
      ctx.stroke();
    });
    ctx.restore();
  },
  afterDatasetsDraw(chart, args, opts) {
    const { ctx, chartArea: a, scales: { x, y } } = chart;
    ctx.save();
    ctx.font = '11px ' + FONT;
    ctx.fillStyle = '#1a1a1a';
    ctx.textBaseline = 'middle';
    opts.notes.forEach(n => {
      ctx.textAlign = n.align;
      ctx.fillText(n.text, x.getPixelForValue(n.x), y.getPixelForValue(n.y));
    });
    ctx.textAlign = 'center';
    const lx = x.getPixelForValue(opts.labelX);
    opts.phases.forEach((p, i) => ctx.fillText(p, lx, y.getPixelForValue(1 + opts.offsets[i])));
    ctx.fillText('Phase', lx, y.getPixelForValue(opts.phaseY));
    ctx.strokeStyle = '#333333';
    ctx.lineWidth = 1;
    ctx.strokeRect(Math.round(a.left) + 0.5, Math.round(a.top) + 0.5, Math.round(a.width) - 1, Math.round(a.height) - 1);
    ctx.restore();
  }
};

function makePanel(id, p) {
  const majorX = v => (v - p.xTicks[0]) % 20 === 0;
  const majorY = v => Math.round(v * 10) % 2 === 0;
  const gridColor = '#EBEBEB';
  return new Chart(document.getElementById(id), {
    type: 'line',
    data: {
      datasets: p.flux.map((f, i) => ({
        label: p.phases[i],
        data: spectrum(f, p.starts[i], p.offsets[i]),
        borderColor: p.colors[i],
        borderWidth: 1.3,
        pointRadius: 0,
        tension: 0,
        fill: false,
        order: p.flux.length - i
      }))
    },
    options: {
      responsive: false,
      animation: false,
      events: [],
      layout: { padding: { left: 0, right: p.padRight, top: p.padTop, bottom: 0 } },
      plugins: {
        legend: { display: false },
        tooltip: { enabled: false },
        panelDecor: { lines: p.lines, notes: p.notes, phases: p.phases, offsets: p.offsets, labelX: p.labelX, phaseY: p.phaseY }
      },
      scales: {
        x: {
          type: 'linear',
          min: p.xMin,
          max: p.xMax,
          afterBuildTicks: s => { s.ticks = p.xTicks.map(v => ({ value: v })); },
          afterFit: s => { s.height = p.xHeight; },
          border: { display: false },
          grid: {
            color: gridColor,
            lineWidth: c => (c.tick && majorX(c.tick.value) ? 1 : 0.5),
            tickLength: 3,
            tickColor: c => (c.tick && majorX(c.tick.value) ? '#333333' : 'rgba(0,0,0,0)')
          },
          ticks: {
            autoSkip: false,
            maxRotation: 0,
            padding: 2,
            color: '#4D4D4D',
            font: { size: 8.5, family: FONT },
            callback: v => (majorX(v) ? String(v) : '')
          },
          title: p.xTitle
            ? { display: true, text: p.xTitle, color: '#000', font: { size: 12, family: FONT }, padding: { top: 0, bottom: 8 } }
            : { display: false }
        },
        y: {
          min: p.yMin,
          max: p.yMax,
          afterBuildTicks: s => { s.ticks = p.yTicks.map(v => ({ value: v })); },
          afterFit: s => { s.width = 44.3; },
          border: { display: false },
          grid: {
            color: gridColor,
            lineWidth: c => (c.tick && majorY(c.tick.value) ? 1 : 0.5),
            tickLength: 3,
            tickColor: c => (c.tick && majorY(c.tick.value) ? '#333333' : 'rgba(0,0,0,0)')
          },
          ticks: {
            autoSkip: false,
            padding: 2,
            color: '#4D4D4D',
            font: { size: 8.5, family: FONT },
            callback: v => (majorY(v) ? v.toFixed(1) : '')
          },
          title: { display: true, text: 'Normalized Flux + Offset', color: '#000', font: { size: 11.5, family: FONT }, padding: { top: 5, bottom: 0 } }
        }
      }
    },
    plugins: [panelDecor]
  });
}

makePanel('top', {
  flux: [t151, t204, t241, t588, t607, t752, t754, t817, t864, t938],
  starts: topPhases.map(() => 4390),
  phases: topPhases,
  offsets: topOffsets,
  colors: topColors,
  xTicks: topXTicks,
  yTicks: topYTicks,
  xMin: 4388.9, xMax: 4520.3,
  yMin: 0.744, yMax: 2.055,
  padTop: 9, padRight: 12, xHeight: 25,
  lines: [4471.5, 4481.2],
  notes: [
    { text: 'He I 4471', x: 4470.2, y: 2.0, align: 'right' },
    { text: 'Mg II 4481', x: 4482.3, y: 2.0, align: 'left' }
  ],
  labelX: 4515, phaseY: 0.9
});

makePanel('bottom', {
  flux: [b198, b206, b317, b579, b615, b818, b964],
  starts: botStarts,
  phases: botPhases,
  offsets: botOffsets,
  colors: botColors,
  xTicks: botXTicks,
  yTicks: botYTicks,
  xMin: 5825.9, xMax: 5959.1,
  yMin: 0.303, yMax: 2.302,
  padTop: 8.3, padRight: 7.7, xHeight: 41.3,
  xTitle: 'Wavelength',
  lines: [5875.6, 5889.95, 5895.92],
  notes: [
    { text: 'He I 5876', x: 5874.6, y: 0.7, align: 'right' },
    { text: 'Na I (D2) 5890', x: 5888.9, y: 0.4, align: 'right' },
    { text: 'Na I (D1) 5896', x: 5896.9, y: 0.6, align: 'left' }
  ],
  labelX: 5955, phaseY: 0.8
});
</script>
</body>
</html>
